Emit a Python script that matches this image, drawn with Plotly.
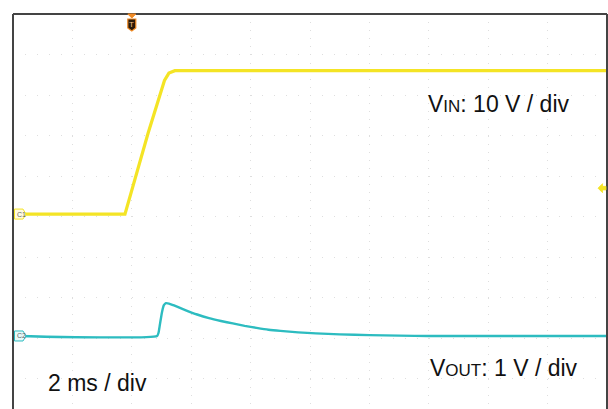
import plotly.graph_objects as go

# ---------------- data (read from the scope capture) ----------------
# time in ms (2 ms/div, trigger at t = 0), voltages in V
vin_t = [-4.0, -0.23, 0.55, 1.1, 1.25, 1.45, 16.0]
vin_v = [0.0, 0.0, 20.0, 33.0, 34.8, 35.4, 35.4]

vout_t = [-4.0, 0.85, 0.9, 0.95, 1.02, 1.08, 1.15, 1.25, 1.4, 1.8, 2.2, 2.6,
          3.0, 3.4, 3.8, 4.2, 4.6, 5.0, 5.6, 6.2, 7.0, 8.0, 9.0, 10.0, 16.0]
vout_v = [0.0, 0.0, 0.08, 0.30, 0.60, 0.76, 0.81, 0.80, 0.76, 0.64, 0.53, 0.44,
          0.37, 0.31, 0.25, 0.20, 0.155, 0.125, 0.09, 0.065, 0.04, 0.02, 0.008, 0.0, 0.0]

vin_scale = 10.0      # V / div
vout_scale = 1.0      # V / div
c1_offset = 4.94      # divisions from top of screen (ground marker C1)
c2_offset = 7.95      # divisions from top of screen (ground marker C2)
trig_level_v = 6.4    # V on C1
x_range = [-4.0, 16.0]
time_div = 2.0
screen_divs = 9.753   # visible vertical divisions (screen cropped at bottom)

labels = {
    "vin": "V<span style=\"font-size:17px\">IN</span>: 10 V / div",
    "vout": "V<span style=\"font-size:17px\">OUT</span>: 1 V / div",
    "time": "2 ms / div",
}

YELLOW = "#F4E425"
CYAN = "#2DBCC0"
ORANGE = "#F08A24"
FRAME = "#444444"
GRID = "#dedede"
FONT = "Liberation Sans, Arial"

vin_y = [c1_offset - v / vin_scale for v in vin_v]
vout_y = [c2_offset - v / vout_scale for v in vout_v]

fig = go.Figure()
fig.add_trace(go.Scatter(x=vin_t, y=vin_y, mode="lines",
                         line=dict(color=YELLOW, width=3.2), hoverinfo="skip"))
fig.add_trace(go.Scatter(x=vout_t, y=vout_y, mode="lines",
                         line=dict(color=CYAN, width=2.4, shape="spline", smoothing=0.5),
                         hoverinfo="skip"))

shapes = []
# frame (left, top, right)
for x0, y0, x1, y1 in [(0, 0, 0, 1), (0, 1, 1, 1), (1, 0, 1, 1)]:
    shapes.append(dict(type="line", xref="paper", yref="paper", x0=x0, y0=y0, x1=x1, y1=y1,
                       line=dict(color=FRAME, width=2), layer="above"))

# channel ground tags
for off, col, fill in [(c1_offset, YELLOW, "#fffbe0"), (c2_offset, CYAN, "#e6fafa")]:
    shapes.append(dict(type="path", xref="paper", xsizemode="pixel", xanchor=0,
                       yref="y", ysizemode="pixel", yanchor=off,
                       path="M1.5,5 L10,5 L13,0 L10,-5 L1.5,-5 Z",
                       fillcolor=fill, line=dict(color=col, width=1), layer="above"))

# trigger position marker (top)
shapes.append(dict(type="path", xref="x", xsizemode="pixel", xanchor=0,
                   yref="paper", ysizemode="pixel", yanchor=1,
                   path="M-4,0 L4,0 L0,-4 Z", fillcolor=ORANGE,
                   line=dict(color=ORANGE, width=1), layer="above"))
shapes.append(dict(type="path", xref="x", xsizemode="pixel", xanchor=0,
                   yref="paper", ysizemode="pixel", yanchor=1,
                   path="M-4,-5 L4,-5 L4,-14 L0,-17 L-4,-14 Z", fillcolor="#2a1a0a",
                   line=dict(color=ORANGE, width=1.2), layer="above"))

# trigger level arrow (right)
trig_y = c1_offset - trig_level_v / vin_scale
shapes.append(dict(type="path", xref="paper", xsizemode="pixel", xanchor=1,
                   yref="y", ysizemode="pixel", yanchor=trig_y,
                   path="M-9,0 L-4.5,4.5 L-4.5,1.8 L-1,1.8 L-1,-1.8 L-4.5,-1.8 L-4.5,-4.5 Z",
                   fillcolor=YELLOW, line=dict(color=YELLOW, width=0.8), layer="above"))

annotations = [
    dict(text="C1", xref="paper", x=0, xanchor="left", xshift=2, yref="y", y=c1_offset,
         showarrow=False, font=dict(size=7, color="#666", family=FONT)),
    dict(text="C2", xref="paper", x=0, xanchor="left", xshift=2, yref="y", y=c2_offset,
         showarrow=False, font=dict(size=7, color="#666", family=FONT)),
    dict(text="T", xref="x", x=0, yref="paper", y=1, yanchor="middle", yshift=-10,
         showarrow=False, font=dict(size=8, color="#f5c08a", family=FONT)),
    dict(text=labels["vin"], xref="paper", x=(426 - 13) / 594, xanchor="left",
         yref="paper", y=(409 - 104) / 395, yanchor="middle", showarrow=False,
         font=dict(size=23, color="#111", family=FONT)),
    dict(text=labels["vout"], xref="paper", x=(428 - 13) / 594, xanchor="left",
         yref="paper", y=(409 - 368) / 395, yanchor="middle", showarrow=False,
         font=dict(size=23, color="#111", family=FONT)),
    dict(text=labels["time"], xref="paper", x=(46 - 13) / 594, xanchor="left",
         yref="paper", y=(409 - 383) / 395, yanchor="middle", showarrow=False,
         font=dict(size=23, color="#111", family=FONT)),
]

fig.update_layout(
    width=608, height=409,
    margin=dict(l=13, r=1, t=14, b=0, pad=0),
    paper_bgcolor="white", plot_bgcolor="white",
    showlegend=False,
    shapes=shapes, annotations=annotations,
    xaxis=dict(range=x_range, tick0=0, dtick=time_div, showticklabels=False,
               ticks="", zeroline=False, showline=False, showgrid=True,
               gridcolor=GRID, gridwidth=1, griddash="1px,7.1px", fixedrange=True),
    yaxis=dict(range=[screen_divs, 0], tick0=0, dtick=1, showticklabels=False,
               ticks="", zeroline=False, showline=False, showgrid=True,
               gridcolor=GRID, gridwidth=1, griddash="1px,10.88px", fixedrange=True),
)

fig.write_html("out.html", config={"displayModeBar": False},
               post_script="document.body.style.margin='0px';")
